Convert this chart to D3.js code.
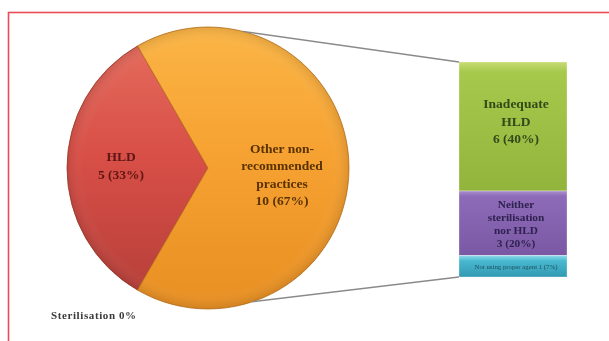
<!DOCTYPE html>
<html>
<head>
<meta charset="utf-8">
<script src="https://cdn.jsdelivr.net/npm/d3@7"></script>
<style>
  html, body { margin: 0; padding: 0; background: #ffffff; }
  svg { display: block; }
</style>
</head>
<body>
<svg id="chart" width="609" height="341"></svg>
<script>
// Main pie: reprocessing methods used
const pieCategories = ["HLD", "Other non-recommended practices"];
const pieValues = [5, 10];
const pieLabels = [["HLD", "5 (33%)"], ["Other non-", "recommended", "practices", "10 (67%)"]];

// Breakdown of "Other non-recommended practices"
const barCategories = ["Inadequate HLD", "Neither sterilisation nor HLD", "Not using proper agent"];
const barValues = [6, 3, 1];
const barLabels = [["Inadequate", "HLD", "6 (40%)"], ["Neither", "sterilisation", "nor HLD", "3 (20%)"], ["Not using proper agent 1 (7%)"]];

const footnote = "Sterilisation 0%";

const svg = d3.select("#chart");
const defs = svg.append("defs");

// soft text rendering
const soft = defs.append("filter").attr("id", "soft");
soft.append("feGaussianBlur").attr("stdDeviation", 0.35);

// frame
svg.append("rect")
  .attr("x", 8.5).attr("y", 12.5).attr("width", 640).attr("height", 360)
  .attr("fill", "none").attr("stroke", "#ea4a55").attr("stroke-width", 1.6);

// ---- pie ----
const cx = 208, cy = 168, r = 141;
const pieColors = [
  { top: "#e46a5c", mid: "#d84f47", bot: "#b8403a", text: "#5e1512", stroke: "#9a3a2a" },
  { top: "#fbb545", mid: "#f6a232", bot: "#e88f22", text: "#5a3206", stroke: "#b8701a" }
];
pieColors.forEach((c, i) => {
  const g = defs.append("linearGradient").attr("id", "pg" + i)
    .attr("x1", 0).attr("y1", 0).attr("x2", 0).attr("y2", 1);
  g.append("stop").attr("offset", "0%").attr("stop-color", c.top);
  g.append("stop").attr("offset", "45%").attr("stop-color", c.mid);
  g.append("stop").attr("offset", "100%").attr("stop-color", c.bot);
});

const startA = 210 * Math.PI / 180;
const pie = d3.pie().sort(null).startAngle(startA).endAngle(startA + 2 * Math.PI);
const arcs = pie(pieValues);
const arc = d3.arc().innerRadius(0).outerRadius(r);

const pg = svg.append("g").attr("transform", `translate(${cx},${cy})`);

// soft rim shading
const rim = defs.append("radialGradient").attr("id", "rim")
  .attr("cx", "50%").attr("cy", "50%").attr("r", "50%");
rim.append("stop").attr("offset", "88%").attr("stop-color", "#fff").attr("stop-opacity", 0);
rim.append("stop").attr("offset", "100%").attr("stop-color", "#000").attr("stop-opacity", 0.10);

pg.selectAll("path.slice").data(arcs).join("path")
  .attr("class", "slice")
  .attr("d", arc)
  .attr("fill", (d, i) => `url(#pg${i})`)
  .attr("stroke", (d, i) => pieColors[i].stroke)
  .attr("stroke-width", 0.8);

pg.append("circle").attr("r", r).attr("fill", "url(#rim)");

// pie labels (x offset, first baseline, line height)
const labelPos = [[-87, -7, 17.5], [74, -15, 17.4]];
pieLabels.forEach((lines, i) => {
  const t = pg.append("text")
    .attr("text-anchor", "middle")
    .attr("font-family", "Liberation Serif, serif")
    .attr("font-size", 13.5)
    .attr("font-weight", "bold")
    .attr("filter", "url(#soft)")
    .attr("fill", pieColors[i].text);
  lines.forEach((l, j) => {
    t.append("tspan").attr("x", labelPos[i][0])
      .attr("y", labelPos[i][1] + j * labelPos[i][2])
      .text(l);
  });
});

// ---- bar of breakdown ----
const barX = 459, barW = 108, barTop = 62, barH = 215;
const total = d3.sum(barValues);
const y = d3.scaleLinear().domain([0, total]).range([barTop, barTop + barH]);
let acc = 0;
const stacks = barValues.map(v => { const s = { y0: acc, y1: acc + v }; acc += v; return s; });

const barColors = [
  { top: "#c6dc72", mid: "#a6c94c", bot: "#92b43c", text: "#33491a" },
  { top: "#ab8fcf", mid: "#8e6bb8", bot: "#7a58a4", text: "#2f2050" },
  { top: "#8edbea", mid: "#48b8d0", bot: "#3399b2", text: "#1d4f5e" }
];
barColors.forEach((c, i) => {
  const g = defs.append("linearGradient").attr("id", "bg" + i)
    .attr("x1", 0).attr("y1", 0).attr("x2", 0).attr("y2", 1);
  g.append("stop").attr("offset", "0%").attr("stop-color", c.top);
  g.append("stop").attr("offset", i === 2 ? "25%" : "8%").attr("stop-color", c.mid);
  g.append("stop").attr("offset", "100%").attr("stop-color", c.bot);
});

svg.selectAll("rect.seg").data(stacks).join("rect")
  .attr("class", "seg")
  .attr("x", barX).attr("width", barW)
  .attr("y", d => y(d.y0))
  .attr("height", d => y(d.y1) - y(d.y0))
  .attr("fill", (d, i) => `url(#bg${i})`)
  .attr("stroke", "#ffffff").attr("stroke-opacity", 0.5).attr("stroke-width", 0.6);

// bar labels
const barFont = [13.5, 11.3, 6.8];
const barLH = [17.5, 13, 7];
const barShift = [-1, 4.5, 2.3];
const barWeight = ["bold", "bold", "normal"];
stacks.forEach((s, i) => {
  const lines = barLabels[i];
  const mid = (y(s.y0) + y(s.y1)) / 2;
  const t = svg.append("text")
    .attr("text-anchor", "middle")
    .attr("font-family", "Liberation Serif, serif")
    .attr("font-size", barFont[i])
    .attr("font-weight", barWeight[i])
    .attr("filter", "url(#soft)")
    .attr("fill", barColors[i].text);
  const n = lines.length;
  lines.forEach((l, j) => {
    t.append("tspan").attr("x", barX + barW / 2 + 3)
      .attr("y", mid + (j - (n - 1) / 2) * barLH[i] + barShift[i])
      .text(l);
  });
});

// connector lines from pie to bar
const a1 = 14.3 * Math.PI / 180, a2 = 161.5 * Math.PI / 180;
const p1 = [cx + r * Math.sin(a1), cy - r * Math.cos(a1)];
const p2 = [cx + r * Math.sin(a2), cy - r * Math.cos(a2)];
svg.append("line")
  .attr("x1", p1[0]).attr("y1", p1[1]).attr("x2", barX).attr("y2", y(0))
  .attr("stroke", "#8a8a8a").attr("stroke-width", 1.4);
svg.append("line")
  .attr("x1", p2[0]).attr("y1", p2[1]).attr("x2", barX).attr("y2", y(total))
  .attr("stroke", "#8a8a8a").attr("stroke-width", 1.4);

// footnote
svg.append("text")
  .attr("x", 51).attr("y", 319)
  .attr("font-family", "Liberation Serif, serif")
  .attr("font-size", 11).attr("font-weight", "bold")
  .attr("letter-spacing", 0.6)
  .attr("filter", "url(#soft)")
  .attr("fill", "#3a3a3a")
  .text(footnote);
</script>
</body>
</html>
